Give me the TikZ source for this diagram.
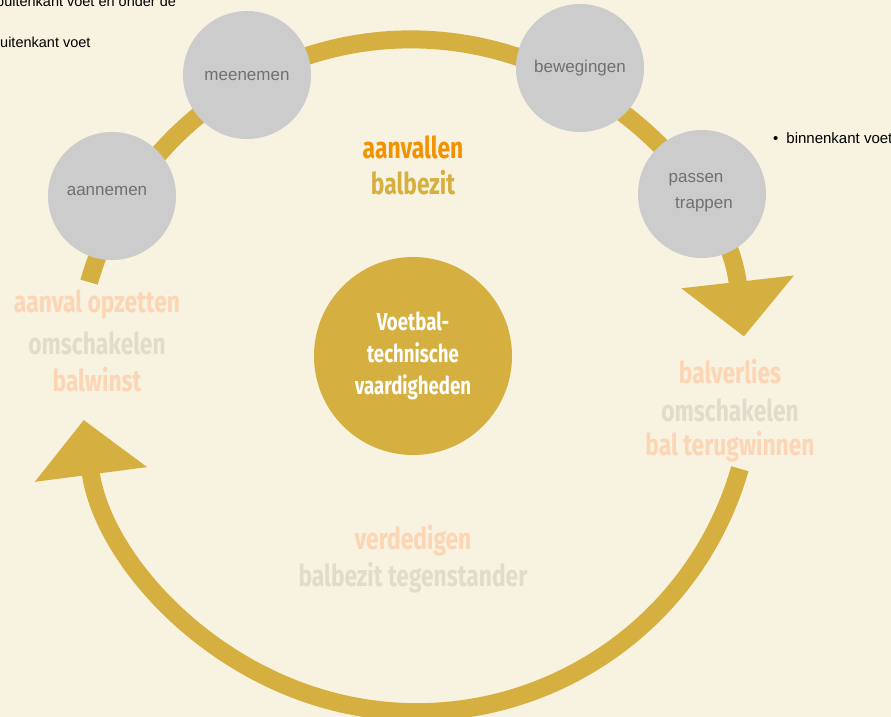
\documentclass[tikz,border=0pt]{standalone}
\usepackage{fontspec}
\setmainfont{Liberation Sans}
\newfontfamily\agency[FakeStretch=0.76]{Fira Sans}
\usepackage{tikz}
\usetikzlibrary{arrows.meta}
\usetikzlibrary{positioning}
\definecolor{cream}{HTML}{F8F2E1}
\definecolor{gold}{HTML}{D5B040}
\definecolor{discgray}{HTML}{CCCCCC}
\definecolor{labelgray}{HTML}{707070}
\definecolor{attack}{HTML}{F39200}
\definecolor{peach}{HTML}{FCD5B5}
\definecolor{pale}{HTML}{E0DCCB}
\tikzstyle{disc}=[fill=discgray,circle,minimum size=128pt,inner sep=1pt]

\begin{document}
\begin{tikzpicture}[x=1pt,y=1pt]
\tikzstyle{ring}=[line width=18pt,gold,-{Triangle[length=55pt,width=110pt]}]
\tikzstyle{word}=[text=labelgray,inner sep=0pt,font=\fontsize{17}{19}\selectfont]
\tikzstyle{phase}=[inner sep=0pt,font=\agency\bfseries\fontsize{30}{32}\selectfont]
\tikzstyle{note}=[inner sep=0pt,anchor=west,font=\fontsize{14.5}{16}\selectfont]
\useasboundingbox (0,0) rectangle (891,-717);
\clip (0,0) rectangle (891,-717);
\fill[cream] (0,0) rectangle (891,-717);
\coordinate (mid) at (413,-375);
\draw[ring] ([shift={(164:337)}]mid) arc[start angle=164, end angle=6.5, radius=335];
\draw[ring] ([shift={(-16:340)}]mid) arc[start angle=-16, end angle=-172.5, radius=336];
\node [disc] (aan) at (112,-196) {};
\node [disc] (mee) at (247,-75) {};
\node [disc] (bew) at (580,-68) {};
\node [disc] (pas) at (702,-194) {};
\node [word] at (107,-191) {aannemen};
\node [word] at (247,-76) {meenemen};
\node [word] at (580,-68) {bewegingen};
\node [word] at (696,-180) {passen};
\node [word] at (704,-205) {trappen};
\node [fill=gold,circle,minimum size=198pt,inner sep=0pt,text=white,align=center,
  font=\agency\bfseries\fontsize{24.5}{32}\selectfont] (hub) at (413,-356) {Voetbal-\\technische\\vaardigheden};
\node [phase,text=attack] (att) at (413,-147) {aanvallen};
\node [phase,text=gold] at (413,-183) {balbezit};
\node [phase,text=peach] (opz) at (97,-304) {aanval opzetten};
\node [phase,text=pale] at (97,-343) {omschakelen};
\node [phase,text=peach] at (97,-380) {balwinst};
\node [phase,text=peach] (verl) at (730,-372) {balverlies};
\node [phase,text=pale] at (730,-410) {omschakelen};
\node [phase,text=peach] at (730,-447) {bal terugwinnen};
\node [phase,text=peach] (verd) at (413,-541) {verdedigen};
\node [phase,text=pale] at (413,-578) {balbezit tegenstander};
\node [note] (n1) at (-4,-1) {buitenkant voet en onder de};
\node [note] (n2) at (0,-42) {uitenkant voet};
\node [note,font=\fontsize{15}{17}\selectfont] (n3) at (773,-138) {\textbullet\hspace{8pt}binnenkant voet};
\end{tikzpicture}
\end{document}
